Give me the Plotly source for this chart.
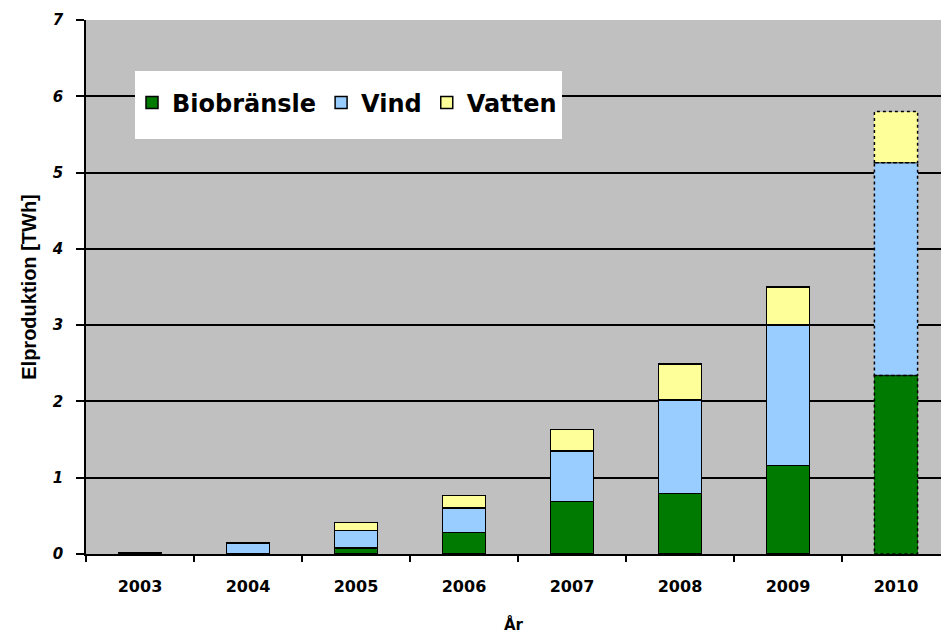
import plotly.graph_objects as go

years = ["2003", "2004", "2005", "2006", "2007", "2008", "2009", "2010"]
biobransle = [0.0, 0.0, 0.08, 0.28, 0.69, 0.79, 1.16, 2.34]
vind = [0.01, 0.14, 0.23, 0.32, 0.66, 1.23, 1.84, 2.79]
vatten = [0.0, 0.01, 0.10, 0.17, 0.28, 0.47, 0.50, 0.67]
series = [("Biobränsle", biobransle, "#007A00"),
          ("Vind", vind, "#99CCFF"),
          ("Vatten", vatten, "#FFFF99")]
prognos_index = 7  # 2010 drawn with dashed outline
bar_width = 0.4

WIDE = "DejaVu Sans, Verdana, sans-serif"
ARIAL = "Liberation Sans, Arial, sans-serif"
fig = go.Figure()
for name, vals, col in series:
    lw = [1.5] * len(vals)
    lw[prognos_index] = 0
    fig.add_trace(go.Bar(
        x=years, y=vals, name=name, width=bar_width,
        marker=dict(color=col, line=dict(color="black", width=lw)),
    ))

# dashed outlines for 2010 segments, computed from data
base = 0.0
for name, vals, col in series:
    v = vals[prognos_index]
    fig.add_shape(type="rect", xref="x", yref="y",
                  x0=prognos_index - bar_width / 2, x1=prognos_index + bar_width / 2,
                  y0=base, y1=base + v,
                  line=dict(color="black", width=1.5, dash="dot"), layer="above")
    base += v

# white legend box
fig.add_shape(type="rect", xref="paper", yref="paper",
              x0=(135 - 86) / 855, x1=(562 - 86) / 855,
              y0=(554 - 139) / 534, y1=(554 - 71) / 534,
              fillcolor="white", line=dict(width=0), layer="above")

fig.update_layout(
    width=941, height=634,
    margin=dict(l=86, r=0, t=20, b=80),
    barmode="stack", bargap=0.6,
    plot_bgcolor="#C0C0C0", paper_bgcolor="white",
    font=dict(family=ARIAL, color="black"),
    legend=dict(orientation="h", x=(132 - 86) / 855, y=(554 - 103) / 534,
                xanchor="left", yanchor="middle",
                bgcolor="rgba(0,0,0,0)",
                font=dict(size=24, family=WIDE, weight="bold"),
                traceorder="normal"),
    xaxis=dict(range=[-0.5, -0.5 + 855 / 108], showgrid=False,
               showline=True, linecolor="black", linewidth=1.5,
               ticks="outside", tickson="boundaries", ticklen=6, tickcolor="black",
               tickwidth=1.5,
               tickfont=dict(size=16, family=WIDE, weight="bold"),
               ticklabelstandoff=17,
               title=dict(text="År", font=dict(size=15, family=WIDE, weight="bold"),
                          standoff=26)),
    yaxis=dict(range=[0, 7], dtick=1, showgrid=True, gridcolor="black", gridwidth=1.5,
               showline=True, linecolor="black", linewidth=1.5, zeroline=False,
               ticks="outside", ticklen=8, tickcolor="black", tickwidth=1.5,
               tickfont=dict(size=15, family=WIDE, weight="bold", style="italic"),
               ticklabelstandoff=10,
               title=dict(text="Elproduktion [TWh]",
                          font=dict(size=20, family=ARIAL, weight="bold"), standoff=10)),
)
fig.write_html("out.html", config={"displayModeBar": False},
               post_script="document.body.style.margin='0';")
